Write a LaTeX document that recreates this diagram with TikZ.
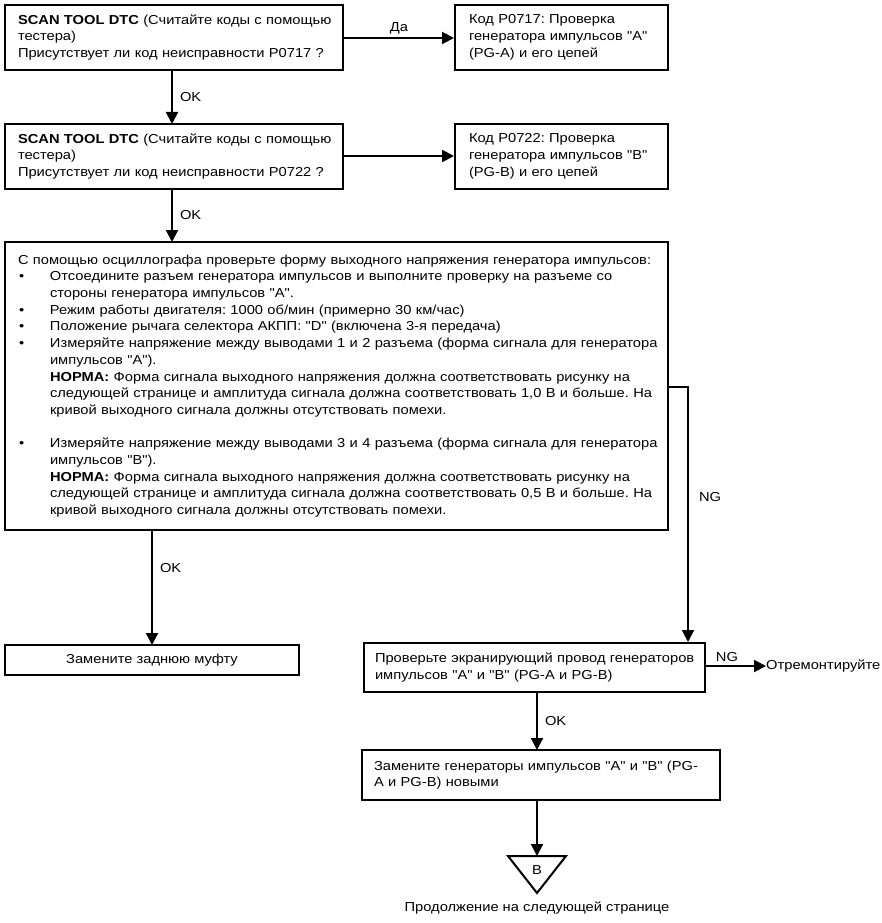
\documentclass[tikz,border=0pt]{standalone}
\usepackage{fontspec}
\setmainfont{Liberation Sans}[FakeStretch=1.13, Ligatures=TeXOff]
\usetikzlibrary{arrows.meta}
\frenchspacing
\newcommand\myfs{\fontsize{13}{16.7}\selectfont}
\newcommand\bul{\makebox[32pt][l]{\hspace{1pt}•}}
\newcommand\ind{\hspace*{32pt}}
\begin{document}
\begin{tikzpicture}[x=1pt,y=-1pt,
  box/.style={draw, line width=2pt, rectangle, inner xsep=13pt, inner ysep=0pt, align=left, font=\myfs},
  cbox/.style={draw, line width=2pt, rectangle, inner sep=0pt, align=center, font=\myfs},
  arr/.style={line width=2pt, -{Triangle[length=12pt,width=12pt]}},
  lbl/.style={font=\myfs, inner sep=0pt}]
\useasboundingbox (0,0) rectangle (882,923);

\node[box, minimum width=338pt, minimum height=65pt, text width=318pt, inner xsep=10pt] (b1) at (174,37.5)
 {\hspace*{3pt}\textbf{SCAN TOOL DTC} (Считайте коды с помощью\\\hspace*{3pt}тестера)\\\hspace*{3pt}Присутствует ли код неисправности P0717 ?};
\node[box, minimum width=213pt, minimum height=65pt, text width=193pt, inner xsep=10pt] (b2) at (561.5,37.5)
 {\hspace*{4pt}Код P0717: Проверка\\\hspace*{4pt}генератора импульсов "A"\\\hspace*{4pt}(PG-A) и его цепей};
\node[box, minimum width=338pt, minimum height=65pt, text width=318pt, inner xsep=10pt] (b3) at (174,156.5)
 {\hspace*{3pt}\textbf{SCAN TOOL DTC} (Считайте коды с помощью\\\hspace*{3pt}тестера)\\\hspace*{3pt}Присутствует ли код неисправности P0722 ?};
\node[box, minimum width=213pt, minimum height=65pt, text width=193pt, inner xsep=10pt] (b4) at (561.5,156.5)
 {\hspace*{4pt}Код P0722: Проверка\\\hspace*{4pt}генератора импульсов "B"\\\hspace*{4pt}(PG-B) и его цепей};
\node[box, minimum width=663pt, minimum height=288pt, text width=651pt, inner xsep=6pt] (b5) at (336.5,386)
 {\hspace*{7pt}С помощью осциллографа проверьте форму выходного напряжения генератора импульсов:\\
 \hspace*{7pt}\bul Отсоедините разъем генератора импульсов и выполните проверку на разъеме со\\
 \hspace*{7pt}\ind стороны генератора импульсов "A".\\
 \hspace*{7pt}\bul Режим работы двигателя: 1000 об/мин (примерно 30 км/час)\\
 \hspace*{7pt}\bul Положение рычага селектора АКПП: "D" (включена 3-я передача)\\
 \hspace*{7pt}\bul Измеряйте напряжение между выводами 1 и 2 разъема (форма сигнала для генератора\\
 \hspace*{7pt}\ind импульсов "A").\\
 \hspace*{7pt}\ind \textbf{НОРМА:} Форма сигнала выходного напряжения должна соответствовать рисунку на\\
 \hspace*{7pt}\ind следующей странице и амплитуда сигнала должна соответствовать 1,0 В и больше. На\\
 \hspace*{7pt}\ind кривой выходного сигнала должны отсутствовать помехи.\\
 ~\\
 \hspace*{7pt}\bul Измеряйте напряжение между выводами 3 и 4 разъема (форма сигнала для генератора\\
 \hspace*{7pt}\ind импульсов "B").\\
 \hspace*{7pt}\ind \textbf{НОРМА:} Форма сигнала выходного напряжения должна соответствовать рисунку на\\
 \hspace*{7pt}\ind следующей странице и амплитуда сигнала должна соответствовать 0,5 В и больше. На\\
 \hspace*{7pt}\ind кривой выходного сигнала должны отсутствовать помехи.};
\node[cbox, minimum width=294pt, minimum height=30pt] (b6) at (152,660) {Замените заднюю муфту};
\node[box, minimum width=341pt, minimum height=49pt, text width=329pt, inner xsep=6pt] (b7) at (534.5,667.5)
 {\hspace*{5pt}Проверьте экранирующий провод генераторов\\\hspace*{5pt}импульсов "A" и "B" (PG-A и PG-B)};
\node[box, minimum width=358pt, minimum height=50pt, text width=346pt, inner xsep=6pt] (b8) at (541,775)
 {\hspace*{6pt}Замените генераторы импульсов "A" и "B" (PG-\\\hspace*{6pt}A и PG-B) новыми};

% triangle connector
\coordinate (tritop) at (537,856);
\draw[line width=2pt, line join=miter] (508,856) -- (566,856) -- (537,893) -- cycle;
\node[lbl] (tB) at (537,870) {B};
\node[lbl] (cont) at (537,908) {Продолжение на следующей странице};
\node[lbl, anchor=west] (rep) at (766,666) {Отремонтируйте};
\coordinate (ngc) at (688,387);

% connectors
\draw[arr] (b1.east |- 0,38) -- node[lbl, above=3pt] (l1) {Да} (b2.west |- 0,38);
\draw[arr] (172,70) -- node[lbl, right=7pt] (l2) {OK} (172,124);
\draw[arr] (b3.east |- 0,156) -- (b4.west |- 0,156);
\draw[arr] (172,189) -- node[lbl, right=7pt] (l3) {OK} (172,242);
\draw[arr] (152,530) -- node[lbl, pos=0.33, right=7pt] (l4) {OK} (152,645);
\draw[arr] (b5.east |- ngc) -- (ngc) -- node[lbl, pos=0.43, right=10pt] (l5) {NG} (ngc |- b7.north);
\draw[arr] (b7.east |- 0,666) -- node[lbl, above=3pt, pos=0.35] (l6) {NG} (rep.west);
\draw[arr] (537,692) -- node[lbl, right=7pt] (l7) {OK} (537,750);
\draw[arr] (b8.south -| tritop) -- (tritop);
\end{tikzpicture}
\end{document}
